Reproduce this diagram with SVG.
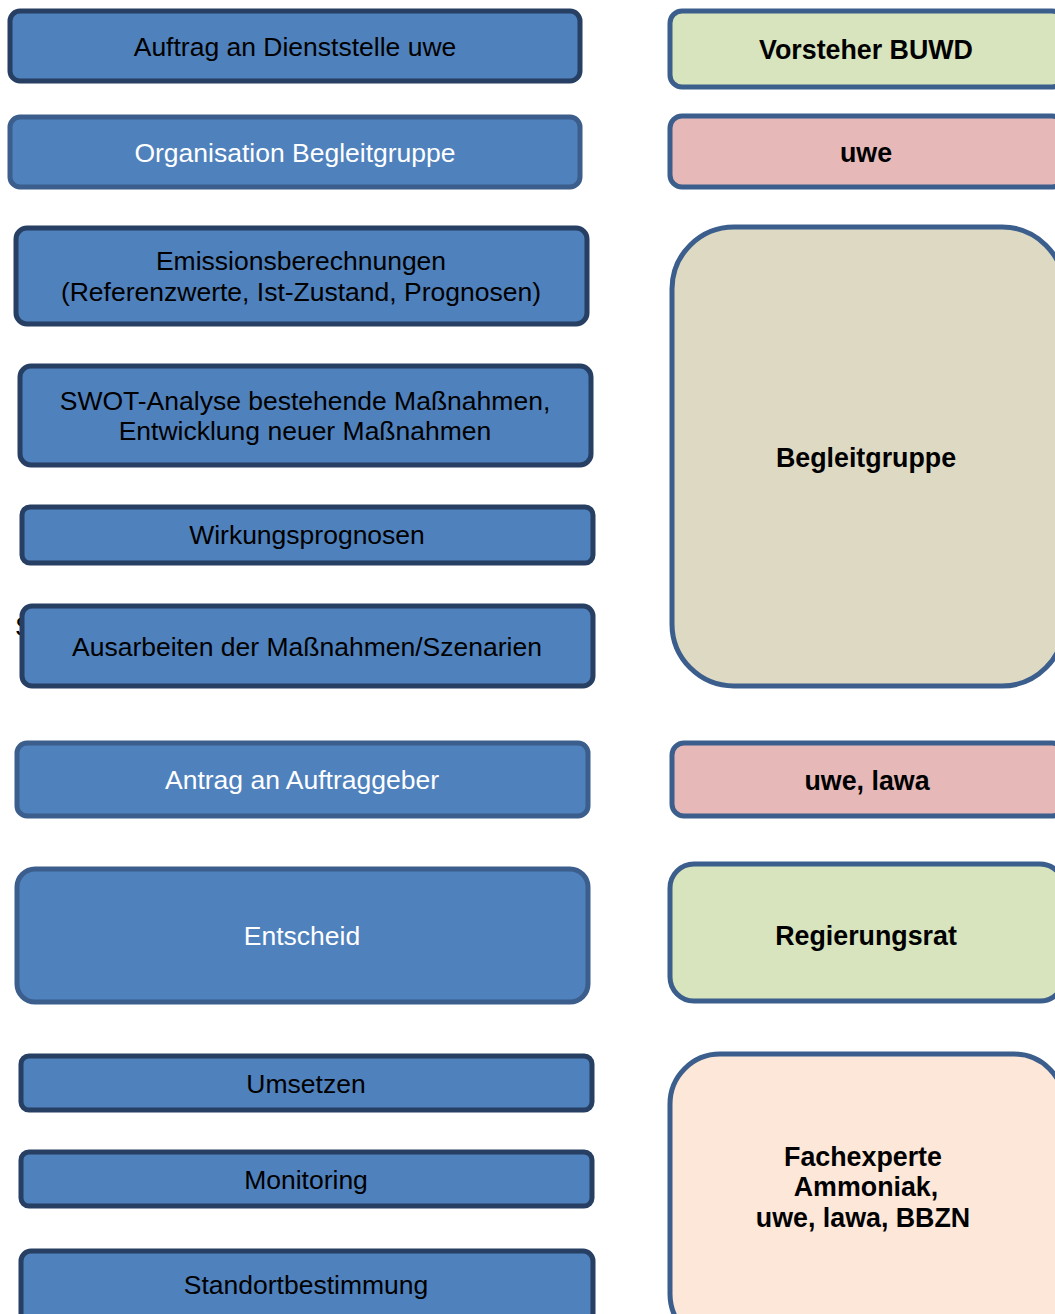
<svg xmlns="http://www.w3.org/2000/svg" width="1055" height="1314" viewBox="0 0 1055 1314">
<style>
.step{fill:#4f81bd;stroke-width:5}
.dk{stroke:#263f63}
.md{stroke:#3b5e8c}
.role{stroke:#3b5e8c;stroke-width:5}
.t{font-family:"Liberation Sans",Arial,sans-serif;font-size:26.5px;text-anchor:middle;fill:#000}
.w{fill:#fff}
.b{font-family:"Liberation Sans",Arial,sans-serif;font-size:26.8px;font-weight:bold;text-anchor:middle;fill:#000}
</style>
<rect width="1055" height="1314" fill="#fff"/>
<g id="connectors"></g>
<text x="15" y="636" class="t" style="text-anchor:start;font-size:28px">S</text>
<g id="n1"><rect class="step dk" x="10" y="11" width="570" height="70" rx="10"/><text class="t" x="295" y="56">Auftrag an Dienststelle uwe</text></g>
<g id="n2"><rect class="step md" x="10" y="117" width="570" height="70" rx="10"/><text class="t w" x="295" y="162">Organisation Begleitgruppe</text></g>
<g id="n3"><rect class="step dk" x="16" y="228" width="571" height="96" rx="11"/><text class="t" x="301" y="270">Emissionsberechnungen</text><text class="t" x="301" y="301">(Referenzwerte, Ist-Zustand, Prognosen)</text></g>
<g id="n4"><rect class="step dk" x="20" y="366" width="571" height="99" rx="11"/><text class="t" x="305" y="410">SWOT-Analyse bestehende Maßnahmen,</text><text class="t" x="305" y="440">Entwicklung neuer Maßnahmen</text></g>
<g id="n5"><rect class="step dk" x="22" y="507" width="571" height="56" rx="8"/><text class="t" x="307" y="544">Wirkungsprognosen</text></g>
<g id="n6"><rect class="step dk" x="22" y="606" width="571" height="80" rx="10"/><text class="t" x="307" y="656">Ausarbeiten der Maßnahmen/Szenarien</text></g>
<g id="n7"><rect class="step md" x="17" y="743" width="571" height="73" rx="10"/><text class="t w" x="302" y="789">Antrag an Auftraggeber</text></g>
<g id="n8"><rect class="step md" x="17" y="869" width="571" height="133" rx="18"/><text class="t w" x="302" y="945">Entscheid</text></g>
<g id="n9"><rect class="step dk" x="21" y="1056" width="571" height="54" rx="8"/><text class="t" x="306" y="1093">Umsetzen</text></g>
<g id="n10"><rect class="step dk" x="21" y="1152" width="571" height="54" rx="8"/><text class="t" x="306" y="1189">Monitoring</text></g>
<g id="n11"><rect class="step dk" x="21" y="1251" width="572" height="80" rx="10"/><text class="t" x="306" y="1294">Standortbestimmung</text></g>
<g id="r1"><rect class="role" fill="#d7e4bd" x="670" y="11" width="394" height="76" rx="12"/><text class="b" x="866" y="59">Vorsteher BUWD</text></g>
<g id="r2"><rect class="role" fill="#e6b9b8" x="670" y="116" width="394" height="71" rx="12"/><text class="b" x="866" y="162">uwe</text></g>
<g id="r3"><rect class="role" fill="#ddd9c3" x="672" y="227" width="392" height="459" rx="62"/><text class="b" x="866" y="467">Begleitgruppe</text></g>
<g id="r4"><rect class="role" fill="#e6b9b8" x="672" y="743" width="392" height="73" rx="12"/><text class="b" x="867" y="790">uwe, lawa</text></g>
<g id="r5"><rect class="role" fill="#d7e4bd" x="670" y="864" width="394" height="137" rx="24"/><text class="b" x="866" y="945">Regierungsrat</text></g>
<g id="r6"><rect class="role" fill="#fce7d9" x="670" y="1054" width="394" height="290" rx="50"/><text class="b" x="863" y="1166">Fachexperte</text><text class="b" x="866" y="1196">Ammoniak,</text><text class="b" x="863" y="1227">uwe, lawa, BBZN</text></g>
</svg>
